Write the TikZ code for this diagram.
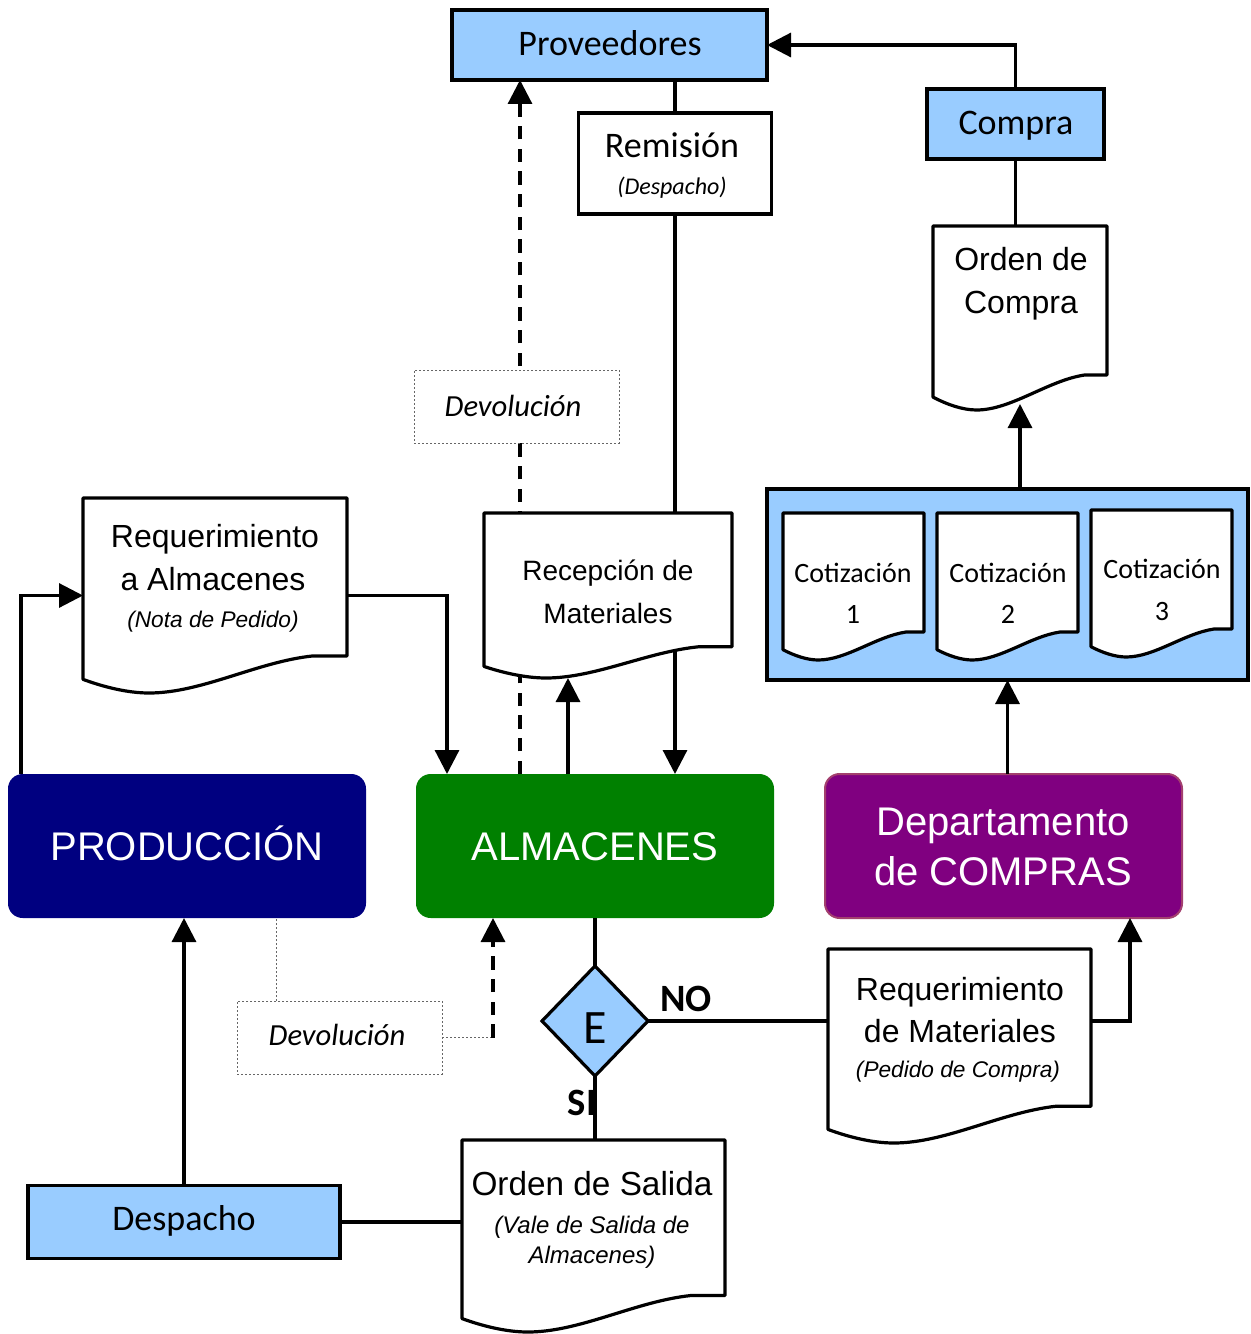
\documentclass[tikz,border=0pt]{standalone}
\usepackage{fontspec}
\setmainfont{Liberation Sans}
\newfontfamily\cbr{Carlito}
\usetikzlibrary{arrows.meta,shapes.geometric,calc}
\pgfdeclarelayer{back}\pgfdeclarelayer{bg}
\pgfsetlayers{back,bg,main}
\definecolor{lb}{HTML}{99CCFF}
\definecolor{navy}{HTML}{000080}
\definecolor{grn}{HTML}{008000}
\definecolor{purp}{HTML}{800080}
\definecolor{purpb}{HTML}{A3406E}
\newcommand\fs[1]{\fontsize{#1}{#1}\selectfont}
\newcommand\docshape[1]{%
\draw[docline] let \p1=(#1.north west), \p2=(#1.south east), \n1={\x2-\x1}, \n2={\y1-\y2} in
 (\x1,\y1) -- (\x2,\y1) -- (\x2,{\y2+0.19*\n2}) -- ({\x1+0.87*\n1},{\y2+0.19*\n2})
 .. controls ({\x1+0.66*\n1},{\y2+0.16*\n2}) and ({\x1+0.45*\n1},{\y2}) .. ({\x1+0.25*\n1},\y2)
 .. controls ({\x1+0.17*\n1},\y2) and ({\x1+0.08*\n1},{\y2+0.03*\n2}) .. (\x1,{\y2+0.07*\n2}) -- cycle;}
\tikzset{
 sz/.style 2 args={minimum width=#1*0.75pt,minimum height=#2*0.75pt},
 ln/.style={line width=2.4pt},
 arr/.style={ln,-{Triangle[length=18pt,width=18pt]}},
 dasharr/.style={arr,dash pattern=on 10pt off 7pt},
 box/.style={draw,line width=2.4pt,inner sep=0pt,outer sep=0pt},
 bluebox/.style={box,fill=lb},
 whitebox/.style={box,fill=white},
 docnode/.style={inner sep=0pt,outer sep=0pt},
 docline/.style={draw,fill=white,line width=2.4pt,line join=round},
 dotbox/.style={draw=black!60,dash pattern=on 1.5pt off 1.5pt,line width=0.75pt,fill=white,inner sep=0pt,outer sep=0pt},
 dotln/.style={draw=black!60,dash pattern=on 1.5pt off 1.5pt,line width=0.75pt},
 dept/.style={rounded corners=11pt,inner sep=0pt,outer sep=0pt},
 tx/.style={anchor=base,inner sep=0pt},
 big/.style={tx,text=white,font=\fs{30}},
}
\begin{document}
\begin{tikzpicture}[x=0.75pt,y=-0.75pt]
\useasboundingbox (0,0) rectangle (1250,1334);
% ---------- nodes
\node[bluebox,sz={315}{70}] (prov) at (609.5,45) {};
\node[whitebox,sz={193}{101}] (remis) at (675,163.5) {};
\node[bluebox,sz={177}{70}] (compra) at (1015.5,124) {};
\node[docnode,sz={174}{184}] (ordc) at (1020,318) {};
\begin{pgfonlayer}{back}
\node[bluebox,sz={481}{191}] (cotbox) at (1007.5,584.5) {};
\end{pgfonlayer}
\node[docnode,sz={141}{147}] (cot1) at (853.5,586.5) {};
\node[docnode,sz={141}{147}] (cot2) at (1007.5,586.5) {};
\node[docnode,sz={141}{147}] (cot3) at (1161.5,583.5) {};
\node[docnode,sz={264}{195}] (reqa) at (215,595.5) {};
\node[docnode,sz={248}{165}] (recep) at (608,595.5) {};
\node[dotbox,sz={205}{73}] (dev1) at (516.5,406.5) {};
\node[dept,fill=navy,sz={358}{144}] (prod) at (187,846) {};
\node[dept,fill=grn,sz={358}{144}] (alm) at (595,846) {};
\node[dept,fill=purp,draw=purpb,line width=1.5pt,sz={357}{144}] (dep) at (1003.5,846) {};
\node[diamond,draw,fill=lb,line width=2.4pt,inner sep=0pt,outer sep=0pt,sz={106}{110}] (dec) at (595,1021) {};
\node[dotbox,sz={205}{73}] (dev2) at (339.5,1037.5) {};
\node[docnode,sz={263}{194}] (reqm) at (959.5,1046) {};
\node[docnode,sz={263}{192}] (ords) at (593.5,1236) {};
\node[bluebox,sz={312}{73}] (desp) at (184,1222) {};
% ---------- document outlines
\begin{pgfonlayer}{bg}
\docshape{ordc}\docshape{cot1}\docshape{cot2}\docshape{cot3}
\docshape{reqa}\docshape{recep}\docshape{reqm}\docshape{ords}
\end{pgfonlayer}
% ---------- connectors behind shapes
\begin{pgfonlayer}{back}
\draw[arr] (remis.north |- prov.south) -- (remis.north |- alm.north);
\draw[dasharr] ($(alm.north west)+(104,0)$) -- ($(prov.south west)+(68,0)$);
\end{pgfonlayer}
% ---------- connectors
\draw[arr] (compra.north) |- (prov.east);
\draw[ln] (compra.south) -- (compra.south |- ordc.north);
\draw[arr] (cotbox.north -| ordc.south) -- ($(ordc.south)+(0,-6)$);
\draw[arr] (dep.north -| cotbox.south) -- (cotbox.south);
\draw[arr] ($(prod.north west)+(13,0)$) |- (reqa.west);
\draw[arr] (reqa.east) -| ($(alm.north west)+(31,0)$);
\coordinate (recin) at ($(recep.south west)+(84,0)$);
\draw[arr] (recin |- alm.north) -- (recin);
\draw[ln] (alm.south -| dec.north) -- (dec.north);
\draw[ln] (dec.east) -- (dec.east -| reqm.west);
\draw[arr] (dec.east -| reqm.east) -| ($(dep.south west)+(305,0)$);
\draw[ln] (dec.south) -- (dec.south |- ords.north);
\draw[ln] (desp.east) -- (desp.east -| ords.west);
\draw[arr] (desp.north) -- (desp.north |- prod.south);
\draw[dotln] (dev2.east) -- ++(51,0) coordinate (d2e);
\draw[dasharr] (d2e) -- (d2e |- alm.south);
\draw[dotln] ($(dev2.north west)+(39,0)$) -- ($(prod.south west)+(268,0)$);
% ---------- texts
\node[tx,font=\cbr\fs{27}] (tprov) at (610,56) {Proveedores};
\node[tx,font=\cbr\fs{27}] (tremis) at (672,158) {Remisión};
\node[tx,font=\cbr\itshape\fs{18}] (tremis2) at (672,195) {(Despacho)};
\node[tx,font=\cbr\fs{27}] (tcompra) at (1016,135) {Compra};
\node[tx,font=\fs{24}] (tordc1) at (1021,270) {Orden de};
\node[tx,font=\fs{24}] (tordc2) at (1021,313) {Compra};
\node[tx,font=\cbr\fs{21}] (tc1a) at (853,582) {Cotización};
\node[tx,font=\cbr\fs{21}] (tc1b) at (853,623) {1};
\node[tx,font=\cbr\fs{21}] (tc2a) at (1008,582) {Cotización};
\node[tx,font=\cbr\fs{21}] (tc2b) at (1008,623) {2};
\node[tx,font=\cbr\fs{21}] (tc3a) at (1162,578) {Cotización};
\node[tx,font=\cbr\fs{21}] (tc3b) at (1162,620) {3};
\node[tx,font=\fs{24}] (treqa1) at (215,547) {Requerimiento};
\node[tx,font=\fs{24}] (treqa2) at (213,590) {a Almacenes};
\node[tx,font=\itshape\fs{17}] (treqa3) at (213,627) {(Nota de Pedido)};
\node[tx,font=\fs{21}] (trec1) at (608,580) {Recepción de};
\node[tx,font=\fs{21}] (trec2) at (608,623) {Materiales};
\node[tx,font=\cbr\itshape\fs{23}] (tdev1) at (513,416) {Devolución};
\node[big] (tprod) at (187,860) {PRODUCCIÓN};
\node[big] (talm) at (595,860) {ALMACENES};
\node[big] (tdep1) at (1003,835) {Departamento};
\node[big] (tdep2) at (1003,885) {de COMPRAS};
\node[tx,font=\cbr\fs{36}] (te) at (595,1043) {E};
\node[tx,font=\cbr\bfseries\fs{29}] (tno) at (686,1011) {NO};
\node[tx,font=\cbr\bfseries\fs{29}] (tsi) at (582,1115) {SI};
\node[tx,font=\cbr\itshape\fs{23}] (tdev2) at (337,1045) {Devolución};
\node[tx,font=\fs{24}] (treqm1) at (960,1000) {Requerimiento};
\node[tx,font=\fs{24}] (treqm2) at (960,1042) {de Materiales};
\node[tx,font=\itshape\fs{17}] (treqm3) at (958,1077) {(Pedido de Compra)};
\node[tx,font=\fs{25}] (tords1) at (592,1195) {Orden de Salida};
\node[tx,font=\itshape\fs{18}] (tords2) at (592,1233) {(Vale de Salida de};
\node[tx,font=\itshape\fs{18}] (tords3) at (592,1263) {Almacenes)};
\node[tx,font=\cbr\fs{27}] (tdesp) at (184,1230) {Despacho};
\end{tikzpicture}
\end{document}
